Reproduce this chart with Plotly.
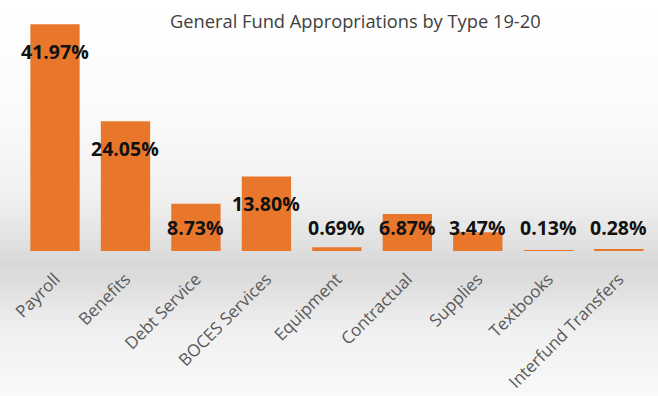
import plotly.graph_objects as go

categories = ["Payroll", "Benefits", "Debt Service", "BOCES Services", "Equipment",
              "Contractual", "Supplies", "Textbooks", "Interfund Transfers"]
values = [41.97, 24.05, 8.73, 13.80, 0.69, 6.87, 3.47, 0.13, 0.28]
labels = ["41.97%", "24.05%", "8.73%", "13.80%", "0.69%", "6.87%", "3.47%", "0.13%", "0.28%"]

W, H = 658, 396
mt, mb, ml, mr = 8, 145, 19, 4
plot_h = H - mt - mb

fig = go.Figure()
fig.add_trace(go.Bar(
    x=categories, y=values,
    marker=dict(color="#E8772C", line=dict(width=0)),
    width=0.7, hoverinfo="skip",
))

# label annotations: near bar top, clamped to minimum height
for c, v, t in zip(categories, values, labels):
    fig.add_annotation(x=c, y=max(v - 5.0, 4.3), text="<b>" + t + "</b>", showarrow=False,
                       font=dict(family="Open Sans", size=19.5, color="#111111"),
                       xanchor="center", yanchor="middle")

# background gradient bands (pixel stops -> gray level)
stops = [(0, 255), (120, 250), (200, 240), (240, 226), (265, 216), (290, 224),
         (330, 240), (396, 249)]
def gray_at(py):
    for (p0, g0), (p1, g1) in zip(stops[:-1], stops[1:]):
        if p0 <= py <= p1:
            return g0 + (g1 - g0) * (py - p0) / (p1 - p0)
    return stops[-1][1]

shapes = []
step = 4
for py in range(0, H, step):
    g = int(round(gray_at(py + step / 2)))
    y0 = (H - mb - (py + step)) / plot_h
    y1 = (H - mb - py) / plot_h
    shapes.append(dict(type="rect", xref="paper", yref="paper",
                       x0=-ml / (W - ml - mr) - 0.01, x1=1 + mr / (W - ml - mr) + 0.01,
                       y0=y0, y1=y1 + 0.002, fillcolor=f"rgb({g},{g},{g})",
                       line=dict(width=0), layer="below"))

fig.update_layout(
    width=W, height=H,
    margin=dict(l=ml, r=mr, t=mt, b=mb),
    paper_bgcolor="#f4f4f4", plot_bgcolor="rgba(0,0,0,0)",
    shapes=shapes,
    showlegend=False,
    bargap=0.3,
    title=dict(text="General Fund Appropriations by Type 19-20",
               x=0.54, xanchor="center", y=1 - 22 / H, yanchor="middle",
               font=dict(family="Open Sans", size=18.3, color="#404040")),
    xaxis=dict(showline=False, showgrid=False, zeroline=False, ticks="",
               tickangle=-45, ticklabelstandoff=14,
               tickfont=dict(family="Open Sans", size=17, color="#595959")),
    yaxis=dict(range=[0, plot_h / 5.4], visible=False, showgrid=False, zeroline=False),
)

fig.write_html("out.html")
